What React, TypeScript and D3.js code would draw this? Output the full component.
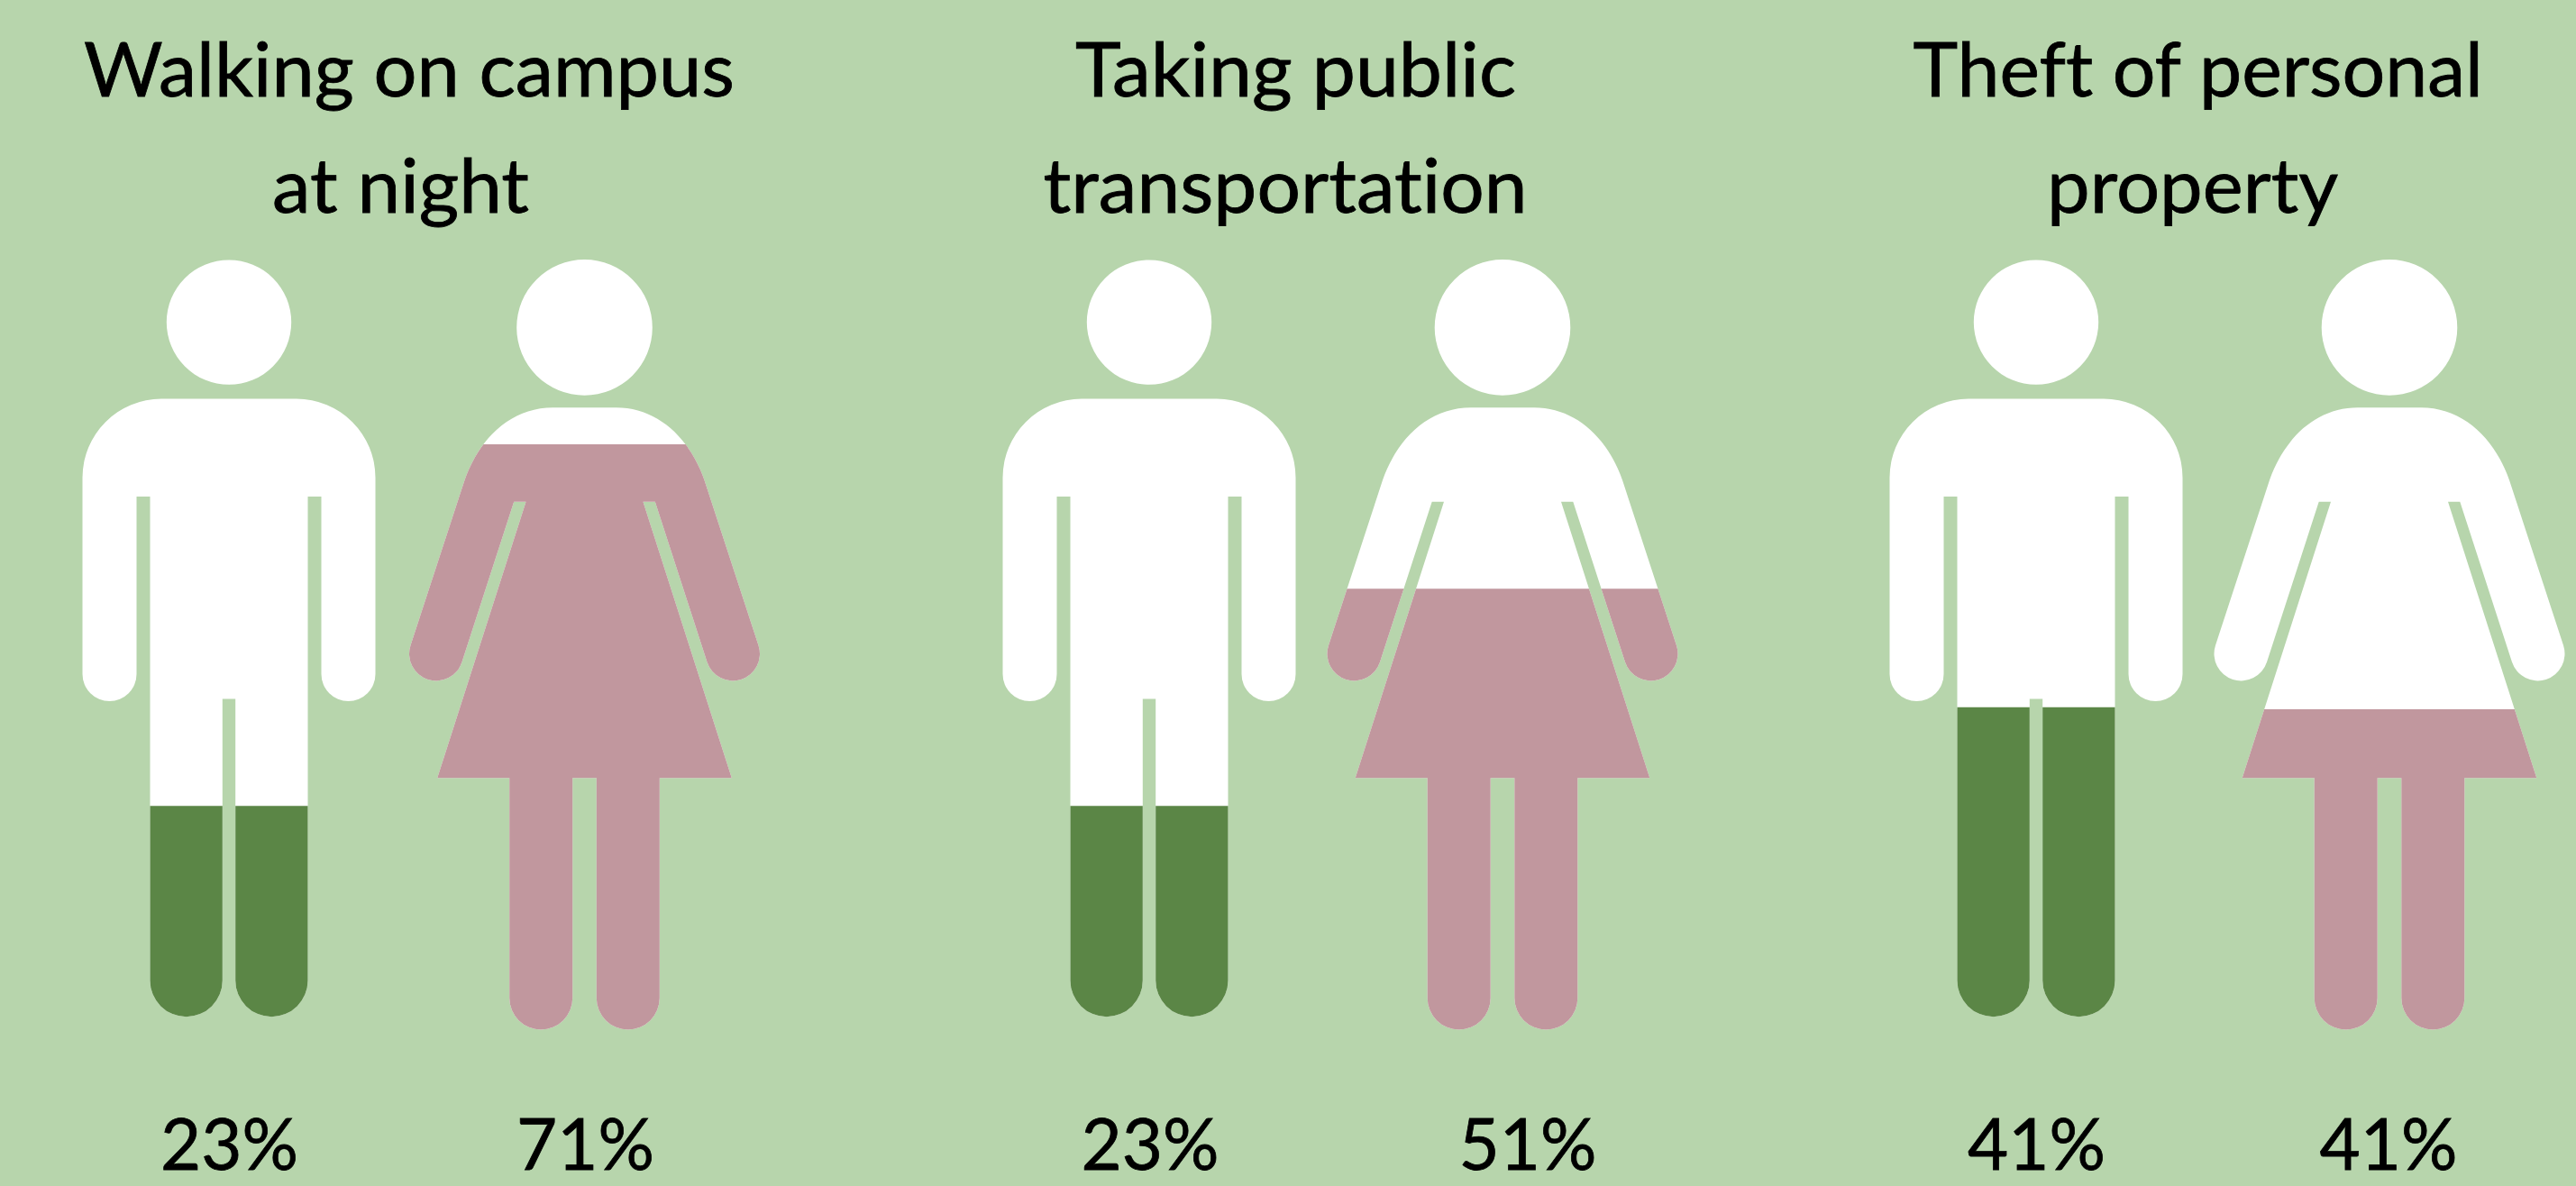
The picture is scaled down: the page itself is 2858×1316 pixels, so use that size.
import React from "react";
import * as d3 from "d3";

// ---- data ----
const topics = ["Walking on campus at night", "Taking public transportation", "Theft of personal property"];
const titleFirstLines = ["Walking on campus", "Taking public", "Theft of personal"];
const titleSecondLines = ["at night", "transportation", "property"];
const menPercent = [23, 23, 41];
const womenPercent = [71, 51, 41];
// share of each pictogram's height that is coloured, as drawn in the picture
const menFilledShare = [0.278, 0.278, 0.4085];
const womenFilledShare = [0.7597, 0.5723, 0.4158];

// ---- layout ----
const W = 2858;
const H = 1316;
const COLORS = { bg: "#B7D5AC", figure: "#FFFFFF", men: "#5B8646", women: "#C1979E", text: "#000000" };
const FONT = "Lato, 'Open Sans', sans-serif";

const manX = d3.scaleOrdinal<string, number>().domain(topics).range([254, 1275, 2259]);
const womanX = d3.scaleOrdinal<string, number>().domain(topics).range([648.5, 1667, 2651]);
const manLabelX = d3.scaleOrdinal<string, number>().domain(topics).range([254.5, 1276, 2259.5]);
const womanLabelX = d3.scaleOrdinal<string, number>().domain(topics).range([649.5, 1695, 2650]);
const manLevelY = d3.scaleLinear().domain([0, 1]).range([1128, 287.6]);
const womanLevelY = d3.scaleLinear().domain([0, 1]).range([1142.4, 287.6]);

const titleLine1 = d3.scaleOrdinal<string, [number, number]>().domain(topics).range([[93, 815], [1193, 1682], [2122.5, 2755]]);
const titleLine2 = d3.scaleOrdinal<string, [number, number]>().domain(topics).range([[302, 587], [1157.6, 1694.7], [2271, 2594]]);
const TITLE_Y1 = 107;
const TITLE_Y2 = 235.7;
const PCT_Y = 1298;
const PCT_WIDTH = 153;

const rad = (deg: number) => (deg * Math.PI) / 180;

function manShape(): string {
  const p = d3.path();
  p.moveTo(-75, 442.5);
  p.lineTo(75, 442.5);
  p.arc(75, 530, 87.5, rad(-90), 0);
  p.arc(132.5, 748, 30, 0, rad(180));
  p.lineTo(102.5, 551);
  p.lineTo(87.5, 551);
  p.arc(47.35, 1088, 40.15, 0, rad(180));
  p.lineTo(7.2, 775.5);
  p.lineTo(-7.2, 775.5);
  p.arc(-47.35, 1088, 40.15, 0, rad(180));
  p.lineTo(-87.5, 551);
  p.lineTo(-102.5, 551);
  p.arc(-132.5, 748, 30, 0, rad(180));
  p.arc(-75, 530, 87.5, rad(180), rad(270));
  p.closePath();
  p.moveTo(69.2, 357.6);
  p.arc(0, 357.6, 69.2, 0, Math.PI * 2);
  return p.toString();
}

function womanShape(): string {
  const p = d3.path();
  p.moveTo(-35, 452.3);
  p.lineTo(35, 452.3);
  p.bezierCurveTo(82, 452.3, 117, 487, 133, 532.7);
  p.arc(164.5, 725.4, 30, rad(-17.9), rad(162.1));
  p.lineTo(78.3, 556.8);
  p.lineTo(65, 556.8);
  p.lineTo(163.3, 863.3);
  p.lineTo(83.3, 863.3);
  p.arc(48.3, 1107.4, 35, 0, rad(180));
  p.lineTo(13.3, 863.3);
  p.lineTo(-13.3, 863.3);
  p.arc(-48.3, 1107.4, 35, 0, rad(180));
  p.lineTo(-83.3, 863.3);
  p.lineTo(-163.3, 863.3);
  p.lineTo(-65, 556.8);
  p.lineTo(-78.3, 556.8);
  p.arc(-164.5, 725.4, 30, rad(17.9), rad(197.9));
  p.lineTo(-133, 532.7);
  p.bezierCurveTo(-117, 487, -82, 452.3, -35, 452.3);
  p.closePath();
  p.moveTo(75.3, 363.4);
  p.arc(0, 363.4, 75.3, 0, Math.PI * 2);
  return p.toString();
}

const MAN = manShape();
const WOMAN = womanShape();

const textStyle = { fontVariantLigatures: "none" } as React.CSSProperties;

function Figure({ id, cx, labelX, shape, levelTop, color, pct }: any) {
  return (
    <g>
      <clipPath id={id}>
        <rect x={cx - 220} y={levelTop} width={440} height={H - levelTop} />
      </clipPath>
      <g transform={`translate(${cx},0)`}>
        <path d={shape} fill={COLORS.figure} />
      </g>
      <g clipPath={`url(#${id})`}>
        <g transform={`translate(${cx},0)`}>
          <path d={shape} fill={color} />
        </g>
      </g>
      <text
        x={labelX}
        y={PCT_Y}
        textAnchor="middle"
        fontFamily={FONT}
        fontSize={80}
        fill={COLORS.text}
        stroke={COLORS.text}
        strokeWidth={0.8}
        style={textStyle}
        textLength={PCT_WIDTH}
        lengthAdjust="spacingAndGlyphs"
      >
        {pct}%
      </text>
    </g>
  );
}

function TitleLine({ text, extent, y }: { text: string; extent: [number, number]; y: number }) {
  return (
    <text
      x={extent[0]}
      y={y}
      fontFamily={FONT}
      fontSize={83}
      fill={COLORS.text}
      stroke={COLORS.text}
      strokeWidth={0.8}
      style={textStyle}
      textLength={extent[1] - extent[0]}
      lengthAdjust="spacingAndGlyphs"
    >
      {text}
    </text>
  );
}

export default function App() {
  return (
    <svg
      width={W}
      height={H}
      viewBox={`0 0 ${W} ${H}`}
      style={{ position: "absolute", left: 0, top: 0, display: "block" }}
    >
      <rect width={W} height={H} fill={COLORS.bg} />
      {topics.map((t, i) => (
        <g key={t}>
          <TitleLine text={titleFirstLines[i]} extent={titleLine1(t)} y={TITLE_Y1} />
          <TitleLine text={titleSecondLines[i]} extent={titleLine2(t)} y={TITLE_Y2} />
          <Figure
            id={`m${i}`}
            cx={manX(t)}
            labelX={manLabelX(t)}
            shape={MAN}
            levelTop={manLevelY(menFilledShare[i])}
            color={COLORS.men}
            pct={menPercent[i]}
          />
          <Figure
            id={`w${i}`}
            cx={womanX(t)}
            labelX={womanLabelX(t)}
            shape={WOMAN}
            levelTop={womanLevelY(womenFilledShare[i])}
            color={COLORS.women}
            pct={womenPercent[i]}
          />
        </g>
      ))}
    </svg>
  );
}
